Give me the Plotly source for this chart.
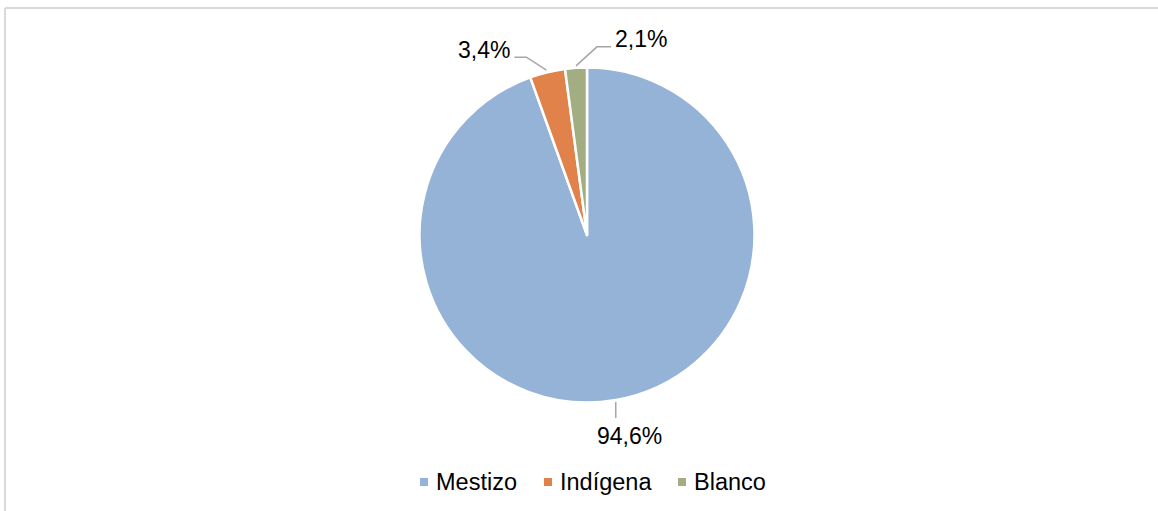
import math
import plotly.graph_objects as go

# Data
categories = ["Mestizo", "Indígena", "Blanco"]
values = [94.6, 3.4, 2.1]
value_labels = ["94,6%", "3,4%", "2,1%"]
colors = ["#95B3D7", "#E0824A", "#A3AD82"]

W, H = 1158, 511
FONT = "Liberation Sans, Arial, sans-serif"
FS = 23
LEGEND_FS = 23.5

# Pie geometry in pixels
cx, cy, r = 587.0, 235.0, 167.5


def px(x):
    return x / W


def py(y):
    return 1 - y / H


fig = go.Figure(
    go.Pie(
        labels=categories,
        values=values,
        marker=dict(colors=colors, line=dict(color="white", width=2.5)),
        sort=False,
        direction="clockwise",
        rotation=0,
        textinfo="none",
        hoverinfo="label+percent",
        showlegend=False,
        domain=dict(x=[px(cx - r), px(cx + r)], y=[py(cy + r), py(cy - r)]),
    )
)

# Edge point at the middle of each slice, computed from the values
total = sum(values)
edges = []
acc = 0.0
for v in values:
    mid = (acc + v / 2) / total * 2 * math.pi
    acc += v
    edges.append((cx + r * math.sin(mid), cy - r * math.cos(mid)))

shapes = []
annotations = []
line_style = dict(color="#A6A6A6", width=1.5)

# Mestizo: short vertical leader below the pie
ex, ey = edges[0]
shapes.append(dict(type="line", xref="paper", yref="paper",
                   x0=px(ex), y0=py(ey + 2), x1=px(ex), y1=py(ey + 18), line=line_style))
annotations.append(dict(text=value_labels[0], xref="paper", yref="paper",
                        x=px(ex - 21), y=py(ey + 36), xanchor="left", yanchor="middle",
                        showarrow=False, font=dict(family=FONT, size=FS, color="#000")))

# Indígena: elbow leader to the upper left
ex, ey = edges[1]
shapes.append(dict(type="path", xref="paper", yref="paper",
                   path=f"M{px(ex - 1)},{py(ey - 2)} L{px(ex - 21)},{py(ey - 15)} L{px(ex - 33)},{py(ey - 15)}",
                   line=line_style))
annotations.append(dict(text=value_labels[1], xref="paper", yref="paper",
                        x=px(ex - 35), y=py(ey - 22), xanchor="right", yanchor="middle",
                        showarrow=False, font=dict(family=FONT, size=FS, color="#000")))

# Blanco: elbow leader to the upper right
ex, ey = edges[2]
shapes.append(dict(type="path", xref="paper", yref="paper",
                   path=f"M{px(ex)},{py(ey - 2)} L{px(ex + 21)},{py(ey - 21)} L{px(ex + 35)},{py(ey - 21)}",
                   line=line_style))
annotations.append(dict(text=value_labels[2], xref="paper", yref="paper",
                        x=px(ex + 37), y=py(ey - 29), xanchor="left", yanchor="middle",
                        showarrow=False, font=dict(family=FONT, size=FS, color="#000")))

# Legend drawn as swatches and text
legend_y = 482
swatch_x = [424, 548, 682]
for name, col, sx in zip(categories, colors, swatch_x):
    shapes.append(dict(type="rect", xref="paper", yref="paper",
                       x0=px(sx - 4), x1=px(sx + 4), y0=py(legend_y + 4), y1=py(legend_y - 4),
                       fillcolor=col, line=dict(width=0)))
    annotations.append(dict(text=name, xref="paper", yref="paper",
                            x=px(sx + 10), y=py(legend_y), xanchor="left", yanchor="middle",
                            showarrow=False, font=dict(family=FONT, size=LEGEND_FS, color="#000")))

# Chart frame
frame = dict(color="#D9D9D9", width=2)
shapes.append(dict(type="line", xref="paper", yref="paper",
                   x0=px(5), x1=1.0, y0=py(8), y1=py(8), line=frame))
shapes.append(dict(type="line", xref="paper", yref="paper",
                   x0=px(5), x1=px(5), y0=py(8), y1=0.0, line=frame))

fig.update_layout(
    width=W, height=H,
    margin=dict(l=0, r=0, t=0, b=0),
    paper_bgcolor="white",
    plot_bgcolor="white",
    shapes=shapes,
    annotations=annotations,
    showlegend=False,
)

fig.write_html("out.html")
